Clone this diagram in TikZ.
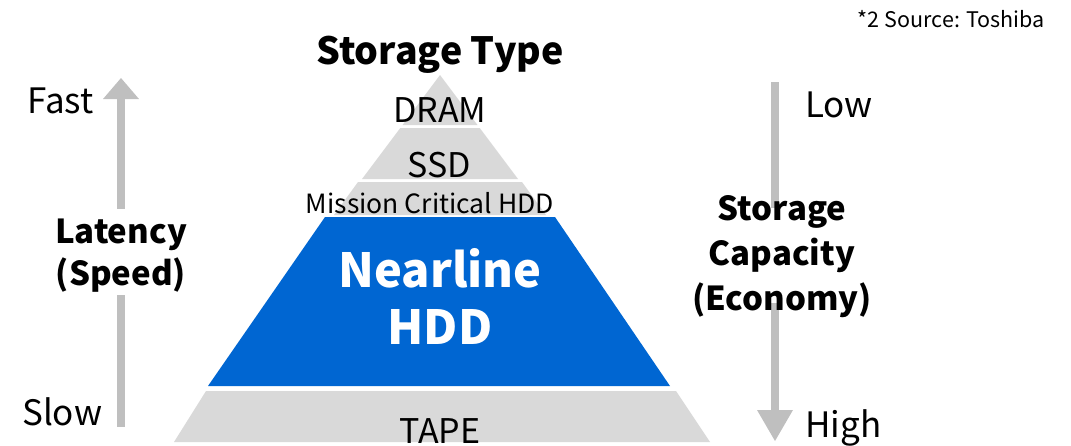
\documentclass[tikz,border=0pt]{standalone}
\usepackage{fontspec}
\setmainfont{Noto Sans CJK JP}
\definecolor{bandgray}{HTML}{D9D9D9}
\definecolor{arrowgray}{HTML}{BFBFBF}
\definecolor{nearblue}{RGB}{0,102,210}
\begin{document}
\begin{tikzpicture}[x=1pt,y=-1pt,
  band/.style={fill=bandgray,draw=none},
  arr/.style={fill=arrowgray,draw=none},
  lbl/.style={inner sep=0pt,anchor=base,font=\fontsize{35}{40}\selectfont},
  blbl/.style={inner sep=0pt,anchor=base,font=\fontsize{33}{40}\selectfont\bfseries},
  tier/.style={inner sep=0pt,anchor=base,font=\fontsize{34}{38}\selectfont},
  near/.style={inner sep=0pt,anchor=base,text=white,font=\fontsize{47}{54}\selectfont\bfseries}]
\useasboundingbox (0,0) rectangle (1071,445);
% pyramid bands
\fill[band] (440,75) -- (477.5,125) -- (402.5,125) -- cycle;
\fill[band] (400.25,128) -- (479.75,128) -- (518,179) -- (362,179) -- cycle;
\fill[band] (358,182) -- (522,182) -- (546,215) -- (334,215) -- cycle;
\fill[nearblue] (325,217) -- (555,217) -- (670,386) -- (208,386) -- cycle;
\fill[band] (206,391) -- (676,391) -- (710,442) -- (174,442) -- cycle;
% left arrow (latency)
\fill[arr] (121,78) -- (139,99) -- (103,99) -- cycle;
\fill[arr] (117,99) rectangle (125,209);
\fill[arr] (117,295) rectangle (125,427);
% right arrow (capacity)
\fill[arr] (771,82) rectangle (779,208);
\fill[arr] (771,303) rectangle (779,410);
\fill[arr] (757,410) -- (793,410) -- (775,441) -- cycle;
% texts
\node[inner sep=0pt,anchor=base east,font=\fontsize{21.5}{25}\selectfont] (src) at (1045,27) {*2 Source: Toshiba};
\node[blbl,font=\fontsize{37.5}{44}\selectfont\bfseries] (title) at (440,64) {Storage Type};
\node[lbl,anchor=base west] (fast) at (27,113) {Fast};
\node[lbl,anchor=base west] (slow) at (22,425) {Slow};
\node[lbl,anchor=base west] (low) at (805,117) {Low};
\node[lbl,anchor=base west] (high) at (805,437) {High};
\node[blbl] (lat1) at (121,243) {Latency};
\node[blbl] (lat2) at (121,285) {(Speed)};
\node[blbl] (cap1) at (782,220) {Storage};
\node[blbl] (cap2) at (782,265) {Capacity};
\node[blbl] (cap3) at (782,310) {(Economy)};
\node[tier] (dram) at (440,122) {DRAM};
\node[tier] (ssd) at (439,177) {SSD};
\node[tier,font=\fontsize{26.5}{30}\selectfont] (mc) at (430,213) {Mission Critical HDD};
\node[near] (nl1) at (440,287) {Nearline};
\node[near] (nl2) at (440,344) {HDD};
\node[tier] (tape) at (440,443) {TAPE};
\end{tikzpicture}
\end{document}
